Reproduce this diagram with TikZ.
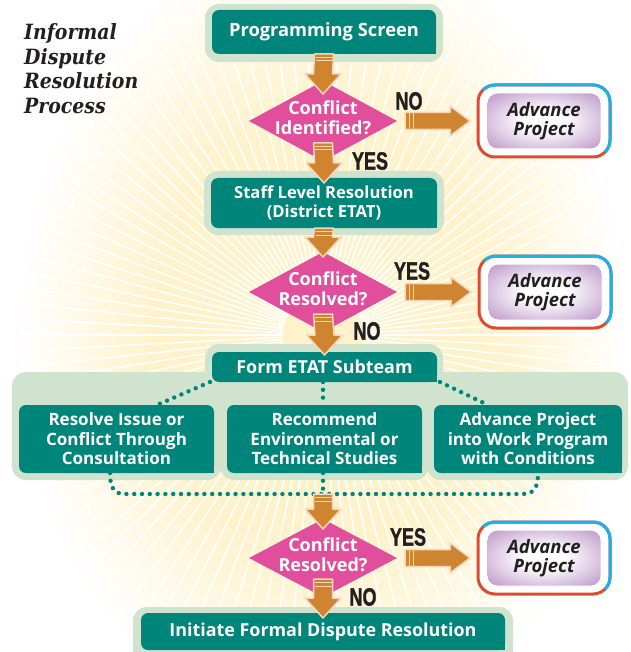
\documentclass[tikz,border=0pt]{standalone}
\usepackage{fontspec}
\usepackage{graphicx}
\setmainfont{Open Sans}
\newfontfamily\titlefont{DejaVuSerifCondensed-BoldItalic.ttf}
\newfontface\lblfont{Liberation Sans Bold}[FakeBold=1.6]
\usetikzlibrary{shapes.geometric,calc}
\definecolor{tealA}{HTML}{00857A}
\definecolor{paleG}{HTML}{CFE3CF}
\definecolor{magA}{HTML}{E14E9C}
\definecolor{orgA}{HTML}{CF8530}
\definecolor{peachA}{HTML}{F8D5BB}
\definecolor{sunY}{HTML}{FEF2CA}
\definecolor{lavA}{HTML}{C6A5D0}
\definecolor{blueA}{HTML}{1AB2E8}
\definecolor{redA}{HTML}{E04B2E}
\definecolor{inkA}{HTML}{231F20}
\pgfdeclareradialshading{lavshade}{\pgfpoint{0bp}{0bp}}{color(0bp)=(white); color(9bp)=(white); color(32bp)=(lavA); color(50bp)=(lavA)}
\tikzset{
  palebox/.style={fill=paleG, rounded corners=14pt, inner sep=0pt, outer sep=0pt},
  tealbox/.style={fill=tealA, rounded corners=7pt, inner sep=0pt, outer sep=0pt, text=white, align=center},
  dia/.style={diamond, fill=magA, minimum width=148pt, minimum height=80pt, inner sep=0pt, outer sep=0pt},
  diatext/.style={text=white, align=center, inner sep=0pt, font=\bfseries\fontsize{18}{20}\selectfont},
  advbg/.style={fill=white, draw=redA, line width=3pt, rounded corners=17pt, minimum width=132pt, minimum height=72pt, inner sep=0pt, outer sep=0pt},
  advblue/.style={draw=blueA, line width=3pt},
  advin/.style={shade, shading=lavshade, rounded corners=10pt, minimum width=113pt, minimum height=55pt, inner sep=0pt, text=inkA, align=center, font=\bfseries\itshape\fontsize{18.5}{18.5}\selectfont},
  barrow/.style={fill=orgA, draw=peachA, line width=1.5pt, line join=round},
  bstripe/.style={draw=peachA, line width=1pt},
  yn/.style={text=inkA, inner sep=0pt, font=\lblfont\fontsize{25}{25}\selectfont},
  dots/.style={draw=tealA, line width=4.4pt, line cap=round, dash pattern=on 0pt off 7.8pt},
  ttl/.style={anchor=base west, inner sep=0pt, text=inkA, font=\titlefont\fontsize{21}{24}\selectfont},
  ray/.style={draw=white, line width=1.5pt},
}
\newcommand\darrow[2]{%
  \filldraw[barrow] ([xshift=-9.5pt]#1) -- ([xshift=9.5pt]#1) -- ([xshift=9.5pt,yshift=20pt]#2) -- ([xshift=18pt,yshift=20pt]#2) -- (#2) -- ([xshift=-18pt,yshift=20pt]#2) -- ([xshift=-9.5pt,yshift=20pt]#2) -- cycle;
  \draw[bstripe] ([xshift=-8.5pt,yshift=-3.5pt]#1) -- ([xshift=8.5pt,yshift=-3.5pt]#1);
  \draw[bstripe] ([xshift=-8.5pt,yshift=-7pt]#1) -- ([xshift=8.5pt,yshift=-7pt]#1);
}
\newcommand\rarrow[2]{%
  \filldraw[barrow] ([yshift=8.5pt]#1) -- ([yshift=-8.5pt]#1) -- ([xshift=-20pt,yshift=-8.5pt]#2) -- ([xshift=-20pt,yshift=-15pt]#2) -- (#2) -- ([xshift=-20pt,yshift=15pt]#2) -- ([xshift=-20pt,yshift=8.5pt]#2) -- cycle;
  \draw[bstripe] ([xshift=4pt,yshift=7.5pt]#1) -- ([xshift=4pt,yshift=-7.5pt]#1);
  \draw[bstripe] ([xshift=8pt,yshift=7.5pt]#1) -- ([xshift=8pt,yshift=-7.5pt]#1);
}
\newcommand\advproj[3]{%
  \node[advbg] (#1bg) at (#2,#3) {};
  \draw[advblue] ([shift={(4.98,4.98)}]#1bg.north west) arc[start angle=225,end angle=270,radius=17] -- ([shift={(-17,0)}]#1bg.north east) arc[start angle=270,end angle=360,radius=17] -- ([shift={(0,-17)}]#1bg.south east) arc[start angle=0,end angle=45,radius=17];
  \node[advin] (#1) at (#1bg) {Advance\\Project};
}
\begin{document}
\begin{tikzpicture}[x=1pt,y=-1pt]
\useasboundingbox (0,0) rectangle (630,652);
\fill[white] (0,0) rectangle (630,652);
% background sunburst
\begin{scope}
  \clip (0,0) rectangle (630,652);
  \foreach \i in {0,...,32} {
    \pgfmathsetmacro\rx{305-\i*4.2}
    \pgfmathsetmacro\ry{400-\i*5.6}
    \pgfmathsetmacro\pc{\i*100/32}
    \fill[sunY!\pc!white] (323,335) ellipse [x radius=\rx, y radius=\ry];
  }
  \foreach \a in {0,3,...,357} \draw[ray] (323,335) ++(\a:40) -- ++(\a:500);
\end{scope}
% title
\node[ttl] (t1) at (24,40) {Informal};
\node[ttl] (t2) at (24,64.5) {Dispute};
\node[ttl] (t3) at (24,89) {Resolution};
\node[ttl] (t4) at (24,113.5) {Process};
% pale surrounds
\node[palebox, minimum width=238pt, minimum height=58pt] (psbg) at (324,33) {};
\node[palebox, minimum width=240pt, minimum height=64pt] (stbg) at (324,203) {};
\node[palebox, minimum width=238pt, minimum height=48pt] (fmbg) at (324,368) {};
\node[palebox, minimum width=616pt, minimum height=98pt] (panel) at (320,421) {};
\node[palebox, minimum width=209pt, minimum height=82pt] (lbg) at (116.5,439) {};
\node[palebox, minimum width=209pt, minimum height=82pt] (mbg) at (324.5,439) {};
\node[palebox, minimum width=201pt, minimum height=82pt] (rbg) at (527.5,439) {};
\node[palebox, minimum width=380pt, minimum height=58pt] (inbg) at (323,636) {};
% dotted connectors
\coordinate (jl) at (125,494);
\coordinate (jr) at (522,494);
\coordinate (jm) at (323,494);
\draw[dots] (210,382) -- (157,405);
\draw[dots] (323,382) -- (323,405);
\draw[dots] (440,382) -- (488,405);
\draw[dots] (110,473) .. controls (110,488) and (114,494) .. (jl) -- (jr) .. controls (534,494) and (538,488) .. (538,473);
\draw[dots] (323,473) -- (jm);
% teal boxes
\node[tealbox, minimum width=224pt, minimum height=44pt, font=\bfseries\fontsize{18.3}{20}\selectfont] (ps) at (324,32) {Programming Screen};
\node[tealbox, minimum width=226pt, minimum height=50pt, font=\bfseries\fontsize{16.6}{19.5}\selectfont] (st) at (324,203) {Staff Level Resolution\\(District ETAT)};
\node[tealbox, minimum width=225pt, minimum height=30pt, font=\bfseries\fontsize{17.9}{20}\selectfont] (fm) at (324.5,367) {Form ETAT Subteam};
\node[tealbox, minimum width=195pt, minimum height=68pt, font=\bfseries\fontsize{17}{19.5}\selectfont] (bl) at (116.5,439) {Resolve Issue or\\Conflict Through\\Consultation};
\node[tealbox, minimum width=195pt, minimum height=68pt, font=\bfseries\fontsize{17}{19.5}\selectfont] (bm) at (324.5,439) {Recommend\\Environmental or\\Technical Studies};
\node[tealbox, minimum width=188pt, minimum height=68pt, font=\bfseries\fontsize{17}{19.5}\selectfont] (br) at (528,439) {Advance Project\\into Work Program\\with Conditions};
\node[tealbox, minimum width=364pt, minimum height=37pt, font=\bfseries\fontsize{17.9}{20}\selectfont] (in) at (323,631.5) {Initiate Formal Dispute Resolution};
% square bottom-right corners of teal boxes
\foreach \n in {ps,st,fm,bl,bm,br,in} \fill[tealA] (\n.south east) rectangle ([xshift=-8pt,yshift=8pt]\n.south east);
% diamonds
\node[dia] (d1) at (323,121) {};
\node[diatext] (d1t) at (323,118) {Conflict\\Identified?};
\node[dia] (d2) at (323,292) {};
\node[diatext] (d2t) at (323,289) {Conflict\\Resolved?};
\node[dia, minimum height=78pt] (d3) at (323,558) {};
\node[diatext] (d3t) at (323,555) {Conflict\\Resolved?};
% advance project boxes
\advproj{a1}{544}{121}
\advproj{a2}{545}{292}
\advproj{a3}{544}{558}
% arrow end points
\coordinate (h1) at ([yshift=-13pt]d1.north);
\coordinate (t2) at ([yshift=18pt]d1.south);
\coordinate (h2) at ([yshift=-5pt]st.north);
\coordinate (h3) at ([yshift=-5pt]d2.north);
\coordinate (t4) at ([yshift=18pt]d2.south);
\coordinate (h4) at ([yshift=-3pt]fm.north);
\coordinate (h5) at ([yshift=-10pt]d3.north);
\coordinate (t6) at ([yshift=18pt]d3.south);
\coordinate (h6) at ([yshift=-5pt]in.north);
\coordinate (r1t) at ([xshift=8pt]d1.east);
\coordinate (r1h) at ([xshift=-8pt]a1bg.west);
\coordinate (r2t) at ([xshift=8pt]d2.east);
\coordinate (r2h) at ([xshift=-8pt]a2bg.west);
\coordinate (r3t) at ([xshift=8pt]d3.east);
\coordinate (r3h) at ([xshift=-8pt]a3bg.west);
% block arrows
\darrow{ps.south}{h1}
\darrow{t2}{h2}
\darrow{st.south}{h3}
\darrow{t4}{h4}
\darrow{jm}{h5}
\darrow{t6}{h6}
\rarrow{r1t}{r1h}
\rarrow{r2t}{r2h}
\rarrow{r3t}{r3h}
% labels
\node[yn] (no1) at (409,101) {\scalebox{0.72}[1]{NO}};
\node[yn] (yes1) at (370,161) {\scalebox{0.72}[1]{YES}};
\node[yn] (yes2) at (412,271) {\scalebox{0.72}[1]{YES}};
\node[yn] (no2) at (367,331) {\scalebox{0.72}[1]{NO}};
\node[yn] (yes3) at (408,537) {\scalebox{0.72}[1]{YES}};
\node[yn] (no3) at (363,597) {\scalebox{0.72}[1]{NO}};
\end{tikzpicture}
\end{document}
